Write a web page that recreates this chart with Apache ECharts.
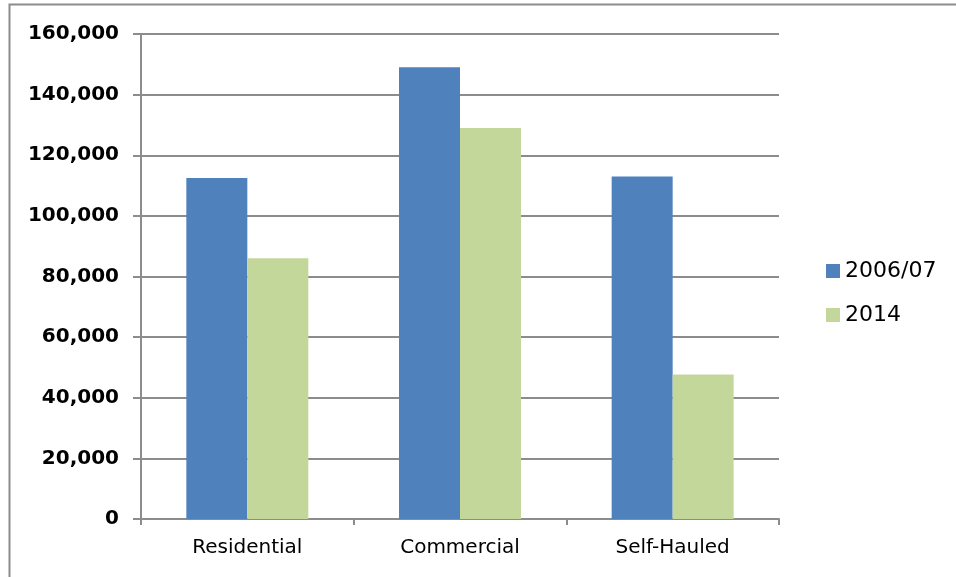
<!DOCTYPE html>
<html>
<head>
<meta charset="utf-8">
<script src="https://cdn.jsdelivr.net/npm/echarts@6/dist/echarts.min.js"></script>
<style>html,body{margin:0;padding:0;background:#fff}#c{width:956px;height:577px}</style>
</head>
<body>
<div id="c"></div>
<script>
const categories = ['Residential', 'Commercial', 'Self-Hauled'];
const seriesNames = ['2006/07', '2014'];
const values2006 = [112500, 149000, 113000];
const values2014 = [86000, 129000, 47700];
const yTicks = [0, 20000, 40000, 60000, 80000, 100000, 120000, 140000, 160000];

const chart = echarts.init(document.getElementById('c'));
const font = 'DejaVu Sans';
chart.setOption({
  animation: false,
  backgroundColor: '#fff',
  textStyle: { fontFamily: font },
  graphic: [
    { type: 'polyline', shape: { points: [[9.5, 600], [9.5, 4.5], [960, 4.5]] },
      style: { stroke: '#8c8c8c', lineWidth: 2, fill: null } }
  ],
  legend: {
    orient: 'vertical', left: 821, top: 255, itemWidth: 14, itemHeight: 14,
    itemGap: 22, icon: 'rect',
    textStyle: { fontSize: 22, color: '#000', fontFamily: font }
  },
  grid: { left: 141, right: 177, top: 34, bottom: 58 },
  xAxis: {
    type: 'category', data: categories,
    axisLine: { lineStyle: { color: '#8c8c8c', width: 2 } },
    axisTick: { show: true, length: 6, lineStyle: { color: '#8c8c8c', width: 2 } },
    axisLabel: { fontSize: 20, color: '#000', margin: 19, fontFamily: font }
  },
  yAxis: {
    type: 'value', min: yTicks[0], max: yTicks[yTicks.length - 1], interval: 20000,
    axisLine: { show: true, lineStyle: { color: '#8c8c8c', width: 2 } },
    axisTick: { show: true, length: 8, lineStyle: { color: '#8c8c8c', width: 2 } },
    splitLine: { lineStyle: { color: '#8c8c8c', width: 2 } },
    axisLabel: {
      fontSize: 20, fontWeight: 'bold', color: '#000', margin: 22, fontFamily: font,
      formatter: v => v.toLocaleString('en-US')
    }
  },
  series: [
    { name: seriesNames[0], type: 'bar', data: values2006, barWidth: 61, barGap: '0%',
      itemStyle: { color: '#4f81bd' } },
    { name: seriesNames[1], type: 'bar', data: values2014, barWidth: 61,
      itemStyle: { color: '#c4d79b' } }
  ]
});
</script>
</body>
</html>
